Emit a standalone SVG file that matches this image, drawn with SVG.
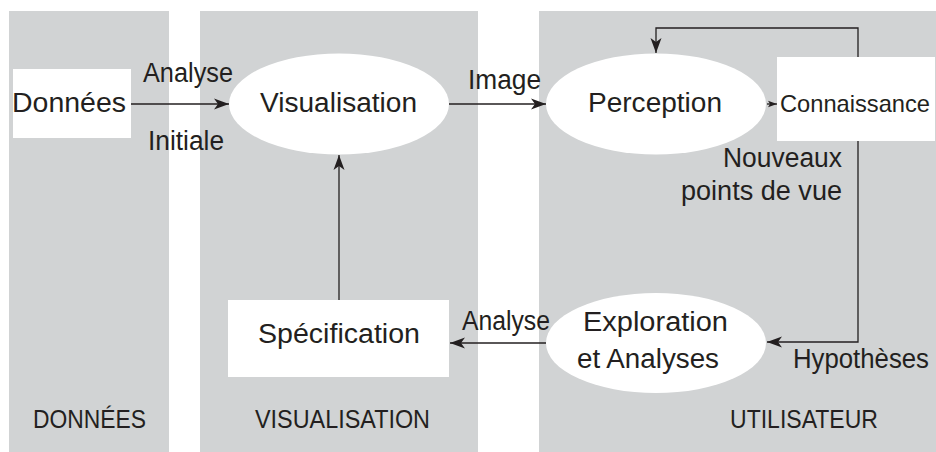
<svg xmlns="http://www.w3.org/2000/svg" width="936" height="452" viewBox="0 0 936 452">
<style>
.panel{fill:#d1d3d4}
.box{fill:#ffffff}
text{font-family:"Liberation Sans",Arial,sans-serif;font-size:27px;fill:#231f20}
.sec{font-size:26px}
.conn{fill:none;stroke:#231f20;stroke-width:1.3}
</style>
<defs>
<marker id="ah" markerUnits="userSpaceOnUse" markerWidth="16" markerHeight="12" refX="15" refY="6" orient="auto" overflow="visible">
<path d="M0,0.5 L15,6 L0,11.5 L4,6 Z" fill="#231f20"/>
</marker>
<marker id="ahs" markerUnits="userSpaceOnUse" markerWidth="10" markerHeight="8" refX="9" refY="4" orient="auto" overflow="visible">
<path d="M0,0.8 L9,4 L0,7.2 L2,4 Z" fill="#231f20"/>
</marker>
</defs>
<g id="panels">
<rect class="panel" x="9" y="11" width="160" height="441"/>
<rect class="panel" x="200" y="11" width="278" height="441"/>
<rect class="panel" x="539" y="11" width="397" height="441"/>
</g>
<g id="section-labels">
<text class="sec" x="33" y="428" textLength="113" lengthAdjust="spacingAndGlyphs">DONNÉES</text>
<text class="sec" x="255" y="428" textLength="175" lengthAdjust="spacingAndGlyphs">VISUALISATION</text>
<text class="sec" x="730" y="428" textLength="148" lengthAdjust="spacingAndGlyphs">UTILISATEUR</text>
</g>
<g id="connectors">
<path class="conn" d="M131,104 H229" marker-end="url(#ah)"/>
<path class="conn" d="M449,104 H546" marker-end="url(#ah)"/>
<path class="conn" d="M767,104 H777" marker-end="url(#ahs)"/>
<path class="conn" d="M858,57 V28 H656 V53" marker-end="url(#ah)"/>
<path class="conn" d="M858,141 V342 H767" marker-end="url(#ah)"/>
<path class="conn" d="M546,343 H450" marker-end="url(#ah)"/>
<path class="conn" d="M339,300 V155" marker-end="url(#ah)"/>
<text x="143" y="82" textLength="90" lengthAdjust="spacingAndGlyphs">Analyse</text>
<text x="148" y="150" textLength="76" lengthAdjust="spacingAndGlyphs">Initiale</text>
<text x="468" y="89" textLength="73" lengthAdjust="spacingAndGlyphs">Image</text>
<text x="723" y="167" textLength="119" lengthAdjust="spacingAndGlyphs">Nouveaux</text>
<text x="681" y="200" textLength="161" lengthAdjust="spacingAndGlyphs">points de vue</text>
<text x="462" y="330" textLength="88" lengthAdjust="spacingAndGlyphs">Analyse</text>
<text x="793" y="368" textLength="136" lengthAdjust="spacingAndGlyphs">Hypothèses</text>
</g>
<g id="donnees">
<rect class="box" x="13" y="69" width="118" height="69"/>
<text x="12" y="112" textLength="114" lengthAdjust="spacingAndGlyphs">Données</text>
</g>
<g id="visualisation">
<ellipse class="box" cx="339" cy="104" rx="110" ry="50.5"/>
<text x="260" y="112" textLength="157" lengthAdjust="spacingAndGlyphs">Visualisation</text>
</g>
<g id="perception">
<ellipse class="box" cx="656" cy="104" rx="110" ry="50.5"/>
<text x="588" y="112" textLength="134" lengthAdjust="spacingAndGlyphs">Perception</text>
</g>
<g id="connaissance">
<rect class="box" x="777" y="57" width="158" height="84"/>
<text x="780" y="112" style="font-size:24px" textLength="150" lengthAdjust="spacingAndGlyphs">Connaissance</text>
</g>
<g id="exploration">
<ellipse class="box" cx="656" cy="343" rx="110" ry="50"/>
<text x="583" y="331" textLength="145" lengthAdjust="spacingAndGlyphs">Exploration</text>
<text x="577" y="368" textLength="142" lengthAdjust="spacingAndGlyphs">et Analyses</text>
</g>
<g id="specification">
<rect class="box" x="228" y="300" width="221" height="77"/>
<text x="258" y="343" textLength="162" lengthAdjust="spacingAndGlyphs">Spécification</text>
</g>
</svg>
